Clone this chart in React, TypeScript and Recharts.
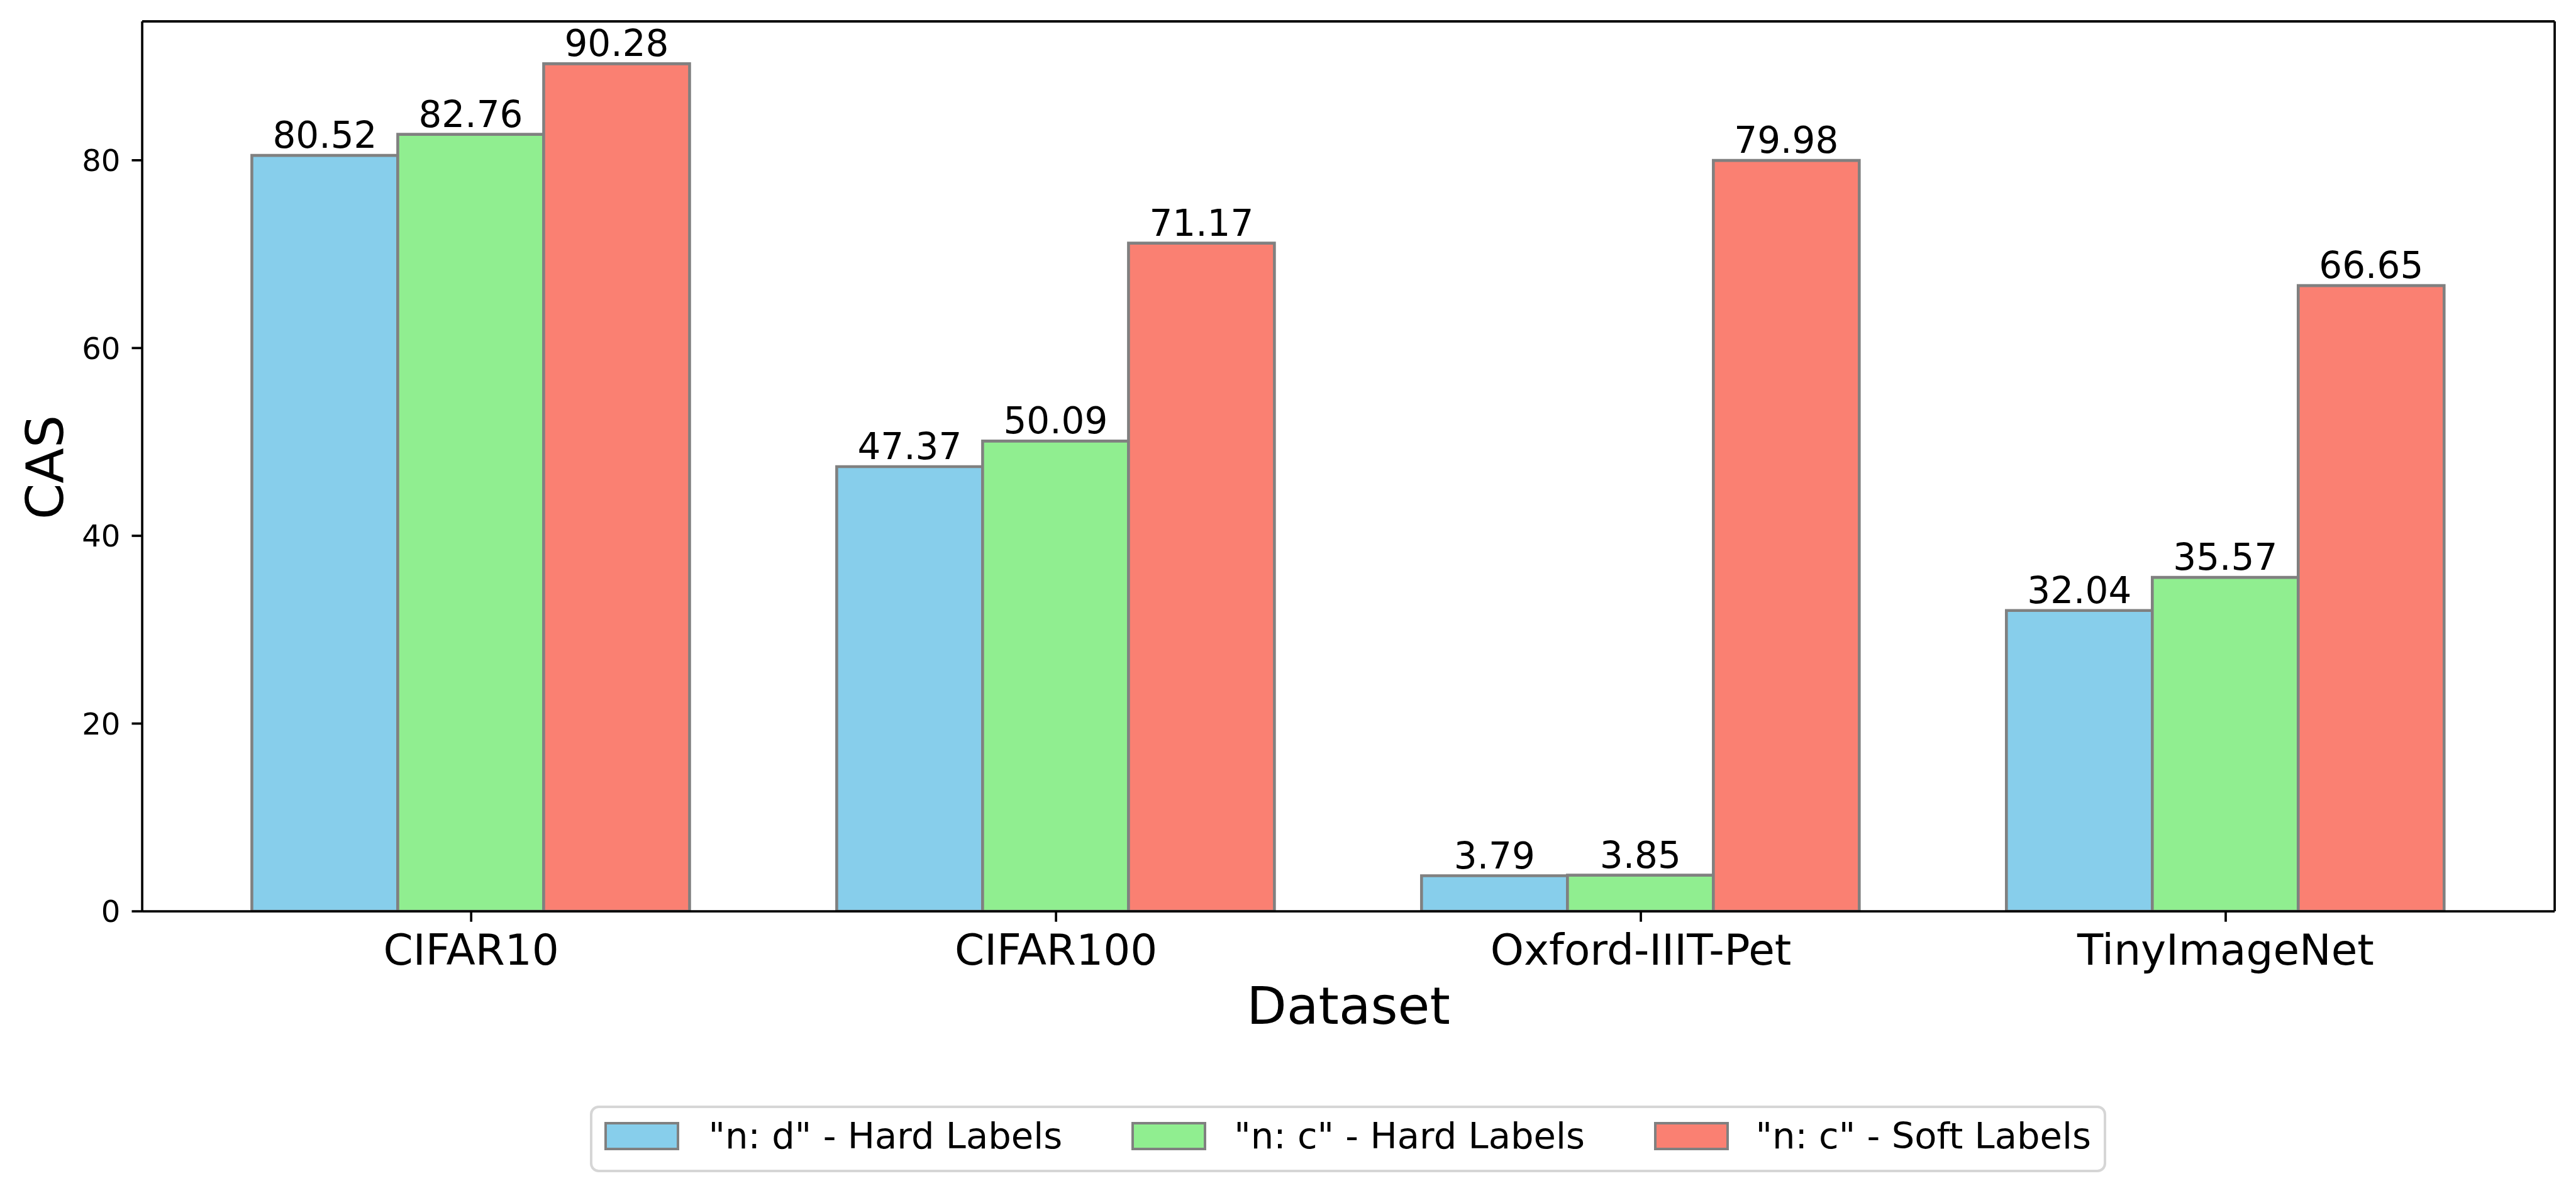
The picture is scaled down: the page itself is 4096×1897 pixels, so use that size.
import React from 'react';
import { BarChart, Bar, XAxis, YAxis, LabelList, ReferenceLine } from 'recharts';

const categories = ['CIFAR10', 'CIFAR100', 'Oxford-IIIT-Pet', 'TinyImageNet'];
const ndHard = [80.52, 47.37, 3.79, 32.04];
const ncHard = [82.76, 50.09, 3.85, 35.57];
const ncSoft = [90.28, 71.17, 79.98, 66.65];
const yTicks = [0, 20, 40, 60, 80];
const seriesNames = ['"n: d" - Hard Labels', '"n: c" - Hard Labels', '"n: c" - Soft Labels'];
const seriesKeys = ['ndHard', 'ncHard', 'ncSoft'];
const seriesColors = ['#87CEEB', '#90EE90', '#FA8072'];

const data = categories.map((name, i) => ({
  name,
  ndHard: ndHard[i],
  ncHard: ncHard[i],
  ncSoft: ncSoft[i],
}));

const W = 4096;
const H = 1897;
const FONT = 'DejaVu Sans, sans-serif';
const Y_MAX = 94.794;
const PLOT_LEFT = 226.1;
const PLOT_RIGHT = 4062.1;
const PLOT_TOP = 34.0;
const PLOT_BOTTOM = 1449.1;
const PLOT_W = PLOT_RIGHT - PLOT_LEFT;
const UNIT = PLOT_W / 4.125;
const XPAD = UNIT * 0.0625;
const X_AXIS_H = 100;
const SPINE = 3.7;
const TICK_LEN = 16.6;
const EDGE = '#808080';
const EDGE_W = 4.6;

// legend item positions (output px)
const legendPatchLeft = [961.3, 1799.2, 2630.2];
const legendTextLeft = [1127.2, 1962.8, 2792.0];

const renderValueLabel = (props: any) => {
  const { x, y, width, value } = props;
  return (
    <text
      x={Number(x) + Number(width) / 2}
      y={Number(y) - 12}
      textAnchor="middle"
      fontSize={58}
      fontFamily={FONT}
      fill="#000"
    >
      {Number(value).toFixed(2)}
    </text>
  );
};

const renderXLabel = (props: any) => {
  const vb = props.viewBox || {};
  const cx = (vb.x ?? PLOT_LEFT) + (vb.width ?? PLOT_W) / 2;
  return (
    <text x={cx} y={1628.2} textAnchor="middle" fontSize={82.6} fontFamily={FONT} fill="#000">
      Dataset
    </text>
  );
};

const renderYLabel = () => {
  const x = 100.4;
  const y = 743;
  return (
    <text
      x={x}
      y={y}
      transform={`rotate(-90, ${x}, ${y})`}
      textAnchor="middle"
      fontSize={82.6}
      fontFamily={FONT}
      fill="#000"
    >
      CAS
    </text>
  );
};

const LEG_LEFT = 938.4;
const LEG_TOP = 1758.4;

const Legend = () => (
  <div
    style={{
      position: 'absolute',
      left: LEG_LEFT,
      top: LEG_TOP,
      width: 2410.4,
      height: 105.6,
      boxSizing: 'border-box',
      border: '4.6px solid #d6d6d6',
      borderRadius: 14,
      background: '#fff',
      fontFamily: FONT,
      whiteSpace: 'nowrap',
    }}
  >
    {seriesNames.map((n, i) => (
      <React.Fragment key={n}>
        <div
          style={{
            position: 'absolute',
            left: legendPatchLeft[i] - LEG_LEFT - 4.6,
            top: 1784.3 - LEG_TOP - 4.6,
            width: 119.4,
            height: 45.3,
            boxSizing: 'border-box',
            border: `${EDGE_W}px solid ${EDGE}`,
            background: seriesColors[i],
          }}
        />
        <div
          style={{
            position: 'absolute',
            left: legendTextLeft[i] - LEG_LEFT - 4.6,
            top: 1778.8 - LEG_TOP - 4.6,
            fontSize: 57.6,
            lineHeight: '58px',
            height: 58,
            color: '#000',
          }}
        >
          {n}
        </div>
      </React.Fragment>
    ))}
  </div>
);

export default function App() {
  return (
    <div style={{ position: 'absolute', left: 0, top: 0, width: W, height: H, background: '#fff' }}>
      <BarChart
        width={W}
        height={H}
        data={data}
        margin={{ top: PLOT_TOP - 1, right: W - PLOT_RIGHT - 1, left: 0, bottom: H - PLOT_BOTTOM - X_AXIS_H }}
        barCategoryGap="12.5%"
        barGap={0}
        style={{ fontFamily: FONT }}
      >
        <XAxis
          dataKey="name"
          type="category"
          height={X_AXIS_H}
          padding={{ left: XPAD, right: XPAD }}
          axisLine={{ stroke: '#000', strokeWidth: SPINE }}
          tickLine={{ stroke: '#000', strokeWidth: SPINE }}
          tickSize={TICK_LEN}
          tickMargin={20.2}
          tick={{ fontSize: 67.7, fill: '#000', fontFamily: FONT }}
          interval={0}
          label={renderXLabel}
        />
        <XAxis
          xAxisId="top"
          dataKey="name"
          type="category"
          orientation="top"
          height={1}
          axisLine={{ stroke: '#000', strokeWidth: SPINE }}
          tickLine={false}
          tick={false}
        />
        <YAxis
          type="number"
          domain={[0, Y_MAX]}
          ticks={yTicks}
          allowDataOverflow
          width={PLOT_LEFT}
          axisLine={{ stroke: '#000', strokeWidth: SPINE }}
          tickLine={{ stroke: '#000', strokeWidth: SPINE }}
          tickSize={TICK_LEN}
          tickMargin={18}
          tick={{ fontSize: 48.2, fill: '#000', fontFamily: FONT }}
          label={renderYLabel}
        />
        <YAxis
          yAxisId="right"
          orientation="right"
          type="number"
          domain={[0, Y_MAX]}
          width={1}
          axisLine={{ stroke: '#000', strokeWidth: SPINE }}
          tickLine={false}
          tick={false}
        />
        <ReferenceLine y={Y_MAX} stroke="#000" strokeWidth={SPINE} ifOverflow="visible" />
        {seriesKeys.map((k, i) => (
          <Bar
            key={k}
            dataKey={k}
            name={seriesNames[i]}
            fill={seriesColors[i]}
            stroke={EDGE}
            strokeWidth={EDGE_W}
            isAnimationActive={false}
          >
            <LabelList dataKey={k} content={renderValueLabel} />
          </Bar>
        ))}
      </BarChart>
      <Legend />
    </div>
  );
}
